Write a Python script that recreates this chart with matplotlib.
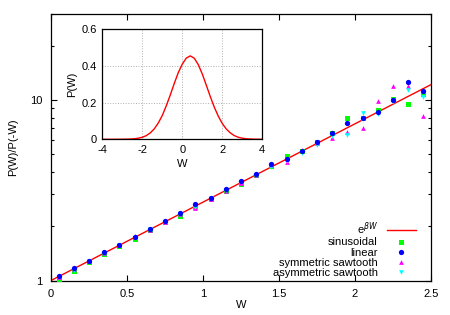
import matplotlib
matplotlib.use("Agg")
import matplotlib.pyplot as plt
import numpy as np
from matplotlib.ticker import LogLocator, NullFormatter, FixedLocator, FixedFormatter

plt.rcParams['font.family'] = ['Liberation Sans', 'DejaVu Sans']

W = [0.05, 0.15, 0.25, 0.35, 0.45, 0.55, 0.65, 0.75, 0.85, 0.95, 1.05, 1.15, 1.25,
     1.35, 1.45, 1.55, 1.65, 1.75, 1.85, 1.95, 2.05, 2.15, 2.25, 2.35, 2.45]
sinusoidal = [1.02, 1.13, 1.27, 1.41, 1.56, 1.69, 1.91, 2.10, 2.27, 2.57, 2.83, 3.12, 3.42,
              3.85, 4.30, 4.89, 5.20, 5.82, 6.58, 7.91, 7.91, 8.80, 10.09, 9.50, 10.8]
linear = [1.06, 1.17, 1.29, 1.43, 1.57, 1.74, 1.93, 2.13, 2.37, 2.65, 2.88, 3.20, 3.56,
          3.90, 4.41, 4.74, 5.20, 5.86, 6.53, 7.42, 7.91, 8.55, 10.0, 12.64, 11.27]
sym_saw = [1.04, 1.16, 1.28, 1.42, 1.58, 1.76, 1.90, 2.12, 2.34, 2.52, 2.84, 3.14, 3.45,
           3.86, 4.39, 4.51, 5.30, 5.75, 6.15, 6.67, 7.02, 9.87, 11.96, 12.0, 8.15]
asym_saw = [1.04, 1.15, 1.29, 1.42, 1.57, 1.73, 1.92, 2.12, 2.35, 2.57, 2.86, 3.16, 3.50,
            3.85, 4.23, 4.60, 5.10, 5.62, 6.30, 6.39, 8.50, 8.33, 9.79, 11.36, 10.35]
beta = 1.0

Wp = [-4.0, -3.8, -3.6, -3.4, -3.2, -3.0, -2.8, -2.6, -2.4, -2.2, -2.0, -1.8, -1.6, -1.4,
      -1.2, -1.0, -0.8, -0.6, -0.4, -0.2, 0.0, 0.2, 0.4, 0.6, 0.8, 1.0, 1.2, 1.4, 1.6,
      1.8, 2.0, 2.2, 2.4, 2.6, 2.8, 3.0, 3.2, 3.4, 3.6, 3.8, 4.0]
PW = [0.0, 0.0, 0.0, 0.0001, 0.0002, 0.0004, 0.0008, 0.0015, 0.003, 0.006, 0.011, 0.020,
      0.035, 0.057, 0.089, 0.130, 0.183, 0.242, 0.305, 0.364, 0.410, 0.443, 0.455, 0.442,
      0.407, 0.356, 0.295, 0.233, 0.175, 0.126, 0.086, 0.056, 0.035, 0.020, 0.011, 0.006,
      0.003, 0.0015, 0.0007, 0.0003, 0.0001]

fig = plt.figure(figsize=(4.5, 3.15), dpi=100)
ax = fig.add_axes([0.1133, 0.1095, 0.8445, 0.8461])

fs = 8
Wl = np.linspace(0, 2.5, 100)
ax.plot(Wl, np.exp(beta * Wl), color='#ff0000', lw=1.0, label=r'e$^{\beta W}$', zorder=2)
ax.plot(W, sinusoidal, 's', color='#00ff00', ms=3.6, mew=0, label='sinusoidal', zorder=3)
ax.plot(W, linear, 'o', color='#0000ff', ms=3.8, mew=0, label='linear', zorder=4)
ax.plot(W, sym_saw, '^', color='#ff00ff', ms=3.4, mew=0, label='symmetric sawtooth', zorder=3)
ax.plot(W, asym_saw, 'v', color='#00ffff', ms=3.4, mew=0, label='asymmetric sawtooth', zorder=3)

ax.set_yscale('log')
ax.set_xlim(0, 2.5)
ax.set_ylim(1, 30)
ax.xaxis.set_major_locator(FixedLocator([0, 0.5, 1, 1.5, 2, 2.5]))
ax.xaxis.set_major_formatter(FixedFormatter(['0', '0.5', '1', '1.5', '2', '2.5']))
ax.yaxis.set_major_locator(FixedLocator([1, 10]))
ax.yaxis.set_major_formatter(FixedFormatter(['1', '10']))
ax.yaxis.set_minor_locator(LogLocator(base=10, subs=np.arange(2, 10)))
ax.yaxis.set_minor_formatter(NullFormatter())
ax.tick_params(which='both', direction='in', top=True, right=True, labelsize=fs, pad=6)
ax.tick_params(which='major', length=4, width=0.8)
ax.tick_params(which='minor', length=2.5, width=0.8)
for s in ax.spines.values():
    s.set_linewidth(0.9)
ax.set_xlabel('W', fontsize=fs, labelpad=1)
ax.set_ylabel('P(W)/P(-W)', fontsize=fs, labelpad=9)

leg = ax.legend(loc='lower right', frameon=False, fontsize=fs, markerfirst=False,
                handlelength=2.6, handletextpad=0.8, labelspacing=0.02,
                bbox_to_anchor=(0.98, -0.02), borderaxespad=0.3)
for t in leg.get_texts():
    t.set_ha('right')

ins = fig.add_axes([0.2273, 0.5578, 0.3556, 0.3492])
ins.plot(Wp, PW, color='#ff0000', lw=1.0)
ins.set_xlim(-4, 4)
ins.set_ylim(0, 0.6)
ins.set_xticks([-4, -2, 0, 2, 4])
ins.set_xticklabels(['-4', '-2', '0', '2', '4'])
ins.set_yticks([0, 0.2, 0.4, 0.6])
ins.set_yticklabels(['0', '0.2', '0.4', '0.6'])
ins.grid(True, color='#b0b0b0', ls=':', lw=0.7)
ins.tick_params(direction='in', length=0, labelsize=fs, pad=4)
for s in ins.spines.values():
    s.set_linewidth(0.9)
ins.set_xlabel('W', fontsize=fs, labelpad=3)
ins.set_ylabel('P(W)', fontsize=fs, labelpad=3)

fig.savefig('out.png', dpi=100)
